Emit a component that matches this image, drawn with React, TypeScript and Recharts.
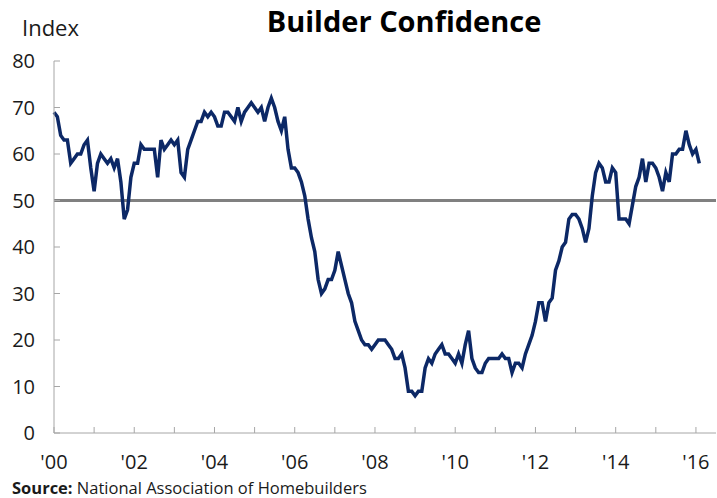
import React from "react";
import { LineChart, Line, XAxis, YAxis, ReferenceLine } from "recharts";

// NAHB housing market index, monthly, Jan 2000 - Feb 2016
const y2000 = [69, 68, 64, 63, 63, 58, 59, 60, 60, 62, 63, 57];
const y2001 = [52, 58, 60, 59, 58, 59, 57, 59, 54, 46, 48, 55];
const y2002 = [58, 58, 62, 61, 61, 61, 61, 55, 63, 61, 62, 63];
const y2003 = [62, 63, 56, 55, 61, 63, 65, 67, 67, 69, 68, 69];
const y2004 = [68, 66, 66, 69, 69, 68, 67, 70, 67, 69, 70, 71];
const y2005 = [70, 69, 70, 67, 70, 72, 70, 67, 65, 68, 61, 57];
const y2006 = [57, 56, 54, 51, 46, 42, 39, 33, 30, 31, 33, 33];
const y2007 = [35, 39, 36, 33, 30, 28, 24, 22, 20, 19, 19, 18];
const y2008 = [19, 20, 20, 20, 19, 18, 16, 16, 17, 14, 9, 9];
const y2009 = [8, 9, 9, 14, 16, 15, 17, 18, 19, 17, 17, 16];
const y2010 = [15, 17, 15, 19, 22, 16, 14, 13, 13, 15, 16, 16];
const y2011 = [16, 16, 17, 16, 16, 13, 15, 15, 14, 17, 19, 21];
const y2012 = [24, 28, 28, 24, 28, 29, 35, 37, 40, 41, 46, 47];
const y2013 = [47, 46, 44, 41, 44, 51, 56, 58, 57, 54, 54, 57];
const y2014 = [56, 46, 46, 46, 45, 49, 53, 55, 59, 54, 58, 58];
const y2015 = [57, 55, 52, 56, 54, 60, 60, 61, 61, 65, 62, 60];
const y2016 = [61, 58];

const monthlyByYear = [
  y2000, y2001, y2002, y2003, y2004, y2005, y2006, y2007, y2008,
  y2009, y2010, y2011, y2012, y2013, y2014, y2015, y2016,
];

const yearLabels = [
  "'00", "'01", "'02", "'03", "'04", "'05", "'06", "'07", "'08",
  "'09", "'10", "'11", "'12", "'13", "'14", "'15", "'16",
];
const yTicks = [0, 10, 20, 30, 40, 50, 60, 70, 80];
const neutralLevel = 50;

const data = monthlyByYear.flatMap((vals, yi) =>
  vals.map((v, mi) => ({ month: yi * 12 + mi, index: v }))
);
const xTicks = yearLabels.map((_, i) => i * 12);

const FONT = "'Open Sans', 'Noto Sans', sans-serif";
const AXIS = "#a6a6a6";
const TEXT = "#1a1a1a";
const NAVY = "#0c2866";

const Y_GAP = 19;
const X_GAP = 22;

const YTick = ({ x, y, payload }: any) => {
  const axisX = x + Y_GAP;
  return (
    <g>
      <line x1={axisX} x2={axisX + 6} y1={y} y2={y} stroke={AXIS} />
      <text x={x} y={y} dy="0.35em" textAnchor="end" fontSize={20} fill={TEXT} fontFamily={FONT}>
        {payload.value}
      </text>
    </g>
  );
};

const XTick = ({ x, y, payload }: any) => {
  const axisY = y - X_GAP;
  const i = Math.round(payload.value / 12);
  return (
    <g>
      <line x1={x} x2={x} y1={axisY} y2={axisY - 6} stroke={AXIS} />
      {i % 2 === 0 && (
        <text x={x} y={y} dy="0.68em" textAnchor="middle" fontSize={20} fill={TEXT} fontFamily={FONT}>
          {yearLabels[i]}
        </text>
      )}
    </g>
  );
};

export default function App() {
  return (
    <div style={{ position: "absolute", left: 0, top: 0, width: 717, height: 498, background: "#fff" }}>
      <LineChart
        width={717}
        height={498}
        data={data}
        margin={{ top: 61, right: 1, left: 0, bottom: 25 }}
      >
        <XAxis
          dataKey="month"
          type="number"
          domain={[0, 198]}
          ticks={xTicks}
          interval={0}
          height={40}
          tickSize={0}
          tickMargin={X_GAP}
          tickLine={false}
          axisLine={{ stroke: AXIS }}
          tick={<XTick />}
        />
        <YAxis
          type="number"
          domain={[0, 80]}
          ticks={yTicks}
          interval={0}
          width={54}
          tickSize={0}
          tickMargin={Y_GAP}
          tickLine={false}
          axisLine={{ stroke: AXIS }}
          tick={<YTick />}
        />
        <ReferenceLine y={neutralLevel} stroke="#808080" strokeWidth={3} />
        <Line
          type="linear"
          dataKey="index"
          stroke={NAVY}
          strokeWidth={3.5}
          dot={false}
          isAnimationActive={false}
        />
      </LineChart>
      <svg
        width={717}
        height={498}
        style={{ position: "absolute", left: 0, top: 0, pointerEvents: "none" }}
      >
        <text x={404} y={32} textAnchor="middle" fontSize={29} fontWeight={700} fill="#000" fontFamily={FONT}>
          Builder Confidence
        </text>
        <text x={22} y={36} fontSize={22} fill={TEXT} fontFamily={FONT}>
          Index
        </text>
        <text x={12} y={494} fontSize={16.5} fill={TEXT} fontFamily={FONT}>
          <tspan fontWeight={700}>Source:</tspan> National Association of Homebuilders
        </text>
      </svg>
    </div>
  );
}
